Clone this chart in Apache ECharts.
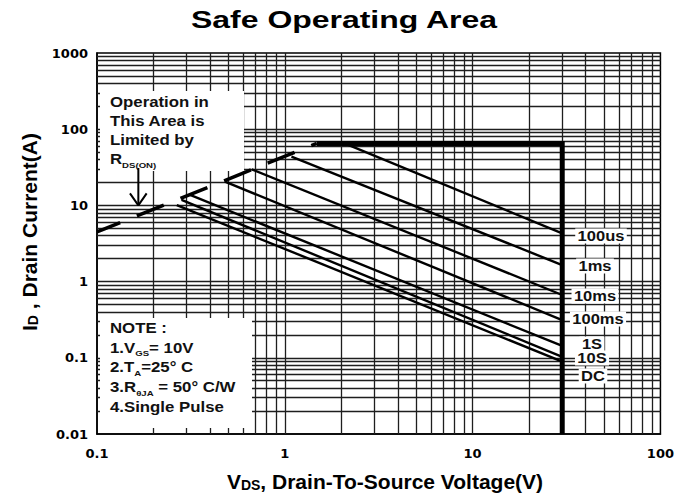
<!DOCTYPE html>
<html><head><meta charset="utf-8">
<script src="https://cdn.jsdelivr.net/npm/echarts@6/dist/echarts.min.js"></script>
<style>html,body{margin:0;padding:0;background:#fff}#c{width:677px;height:499px}</style>
</head><body><div id="c"></div>
<script>
// ---- data ----
const xTickLabels = ['0.1', '1', '10', '100'];
const yTickLabels = ['0.01', '0.1', '1', '10', '100', '1000'];
const pulseNames  = ['100us', '1ms', '10ms', '100ms', '1S', '10S', 'DC'];
const pulseStartV = [2.08, 1.085, 0.666, 0.48, 0.313, 0.282, 0.266];
const pulseStartI = [65, 43.6, 29.8, 20.5, 13.7, 11.8, 10.1];
const pulseEndV   = [30, 30, 30, 30, 30, 30, 30];
const pulseEndI   = [4.3, 1.65, 0.667, 0.313, 0.143, 0.103, 0.089];
const limitV = [1.48, 30, 30];
const limitI = [65, 65, 0.01];
const rdsV = [0.1, 1.48];
const rdsI = [4.48, 65];
const arrowV = [0.166, 0.166];
const arrowI = [31, 10];
const arrowHeadV = [0.1498, 0.166, 0.1838];
const arrowHeadI = [14.4, 10, 14.4];
const gridMultipliers = [1, 2, 3, 4, 5, 6, 7, 8, 9];

// ---- chart ----
const chart = echarts.init(document.getElementById('c'), null, {renderer: 'svg', width: 677, height: 499});
const F = '"Liberation Sans", Arial, sans-serif';
const TXT = '#111';

function decadeGrid(minExp, maxExp) {
  const out = [];
  for (let e = minExp; e < maxExp; e++) {
    for (const m of gridMultipliers) {
      if (m === 1 && e === minExp) continue;
      out.push(m * Math.pow(10, e));
    }
  }
  return out;
}
const xGrid = decadeGrid(-1, 2);
const yGrid = decadeGrid(-2, 3);
const pairs = (xs, ys) => xs.map((x, i) => [x, ys[i]]);

const series = [];
series.push({
  type: 'line', data: [[0.1, 0.01]], showSymbol: false, silent: true, z: 1,
  lineStyle: {width: 0},
  markLine: {
    silent: true, symbol: ['none', 'none'], label: {show: false}, animation: false,
    lineStyle: {color: '#1e1e1e', width: 1.3, type: 'solid'},
    emphasis: {disabled: true},
    data: xGrid.map(v => ({xAxis: v})).concat(yGrid.map(v => ({yAxis: v})))
  }
});
pulseNames.forEach((n, i) => {
  series.push({
    name: n, type: 'line', symbol: 'none', z: 100, silent: true,
    data: [[pulseStartV[i], pulseStartI[i]], [pulseEndV[i], pulseEndI[i]]],
    lineStyle: {color: '#000', width: 2.4}
  });
});
series.push({
  name: 'limit', type: 'line', symbol: 'none', z: 101, silent: true,
  data: pairs(limitV, limitI), lineStyle: {color: '#000', width: 5, join: 'miter', cap: 'butt'}
});
series.push({
  name: 'rds', type: 'line', symbol: 'none', z: 101, silent: true,
  data: pairs(rdsV, rdsI), lineStyle: {color: '#000', width: 3.5, type: [29, 18], dashOffset: 4, cap: 'butt'}
});
series.push({
  name: 'arrow', type: 'line', symbol: 'none', z: 102, silent: true,
  data: pairs(arrowV, arrowI), lineStyle: {color: '#000', width: 2}
});
series.push({
  name: 'arrowHead', type: 'line', symbol: 'none', z: 102, silent: true,
  data: pairs(arrowHeadV, arrowHeadI), lineStyle: {color: '#000', width: 2}
});

const tickFmt = (labels, minExp) => v => labels[Math.round(Math.log10(v)) - minExp] || '';
const axisLabelStyle = {fontFamily: '"DejaVu Sans", sans-serif', fontWeight: 'bold', fontSize: 13, color: '#000'};

const rt = {fontSize: 14, fontWeight: 'bold', fontFamily: F, fill: TXT, lineHeight: 19};
const rs = {fontSize: 8, fontWeight: 'bold', fontFamily: F, fill: TXT, lineHeight: 19, verticalAlign: 'bottom'};

const labelPos = {
  '100us': [601, 236], '1ms': [595, 266], '10ms': [595, 296], '100ms': [598, 319],
  '10S': [592, 358], '1S': [592, 344], 'DC': [593, 376]
};
const labelOrder = ['100us', '1ms', '10ms', '100ms', '10S', '1S', 'DC'];

const graphic = [
  {type: 'rect', shape: {x: 100, y: 91, width: 144, height: 80}, style: {fill: '#fff'}, z: 50, silent: true},
  {type: 'rect', shape: {x: 100, y: 318, width: 152, height: 110}, style: {fill: '#fff'}, z: 50, silent: true},
  {type: 'text', x: 110, y: 93, scaleX: 1.2, z: 110, silent: true,
    style: {text: '{t|Operation in}\n{t|This Area is}\n{t|Limited by}\n{t|R}{s|DS(ON)}',
      rich: {t: rt, s: rs}, align: 'left', verticalAlign: 'top'}},
  {type: 'text', x: 110, y: 318, scaleX: 1.2, z: 110, silent: true,
    style: {text: '{t|NOTE :}\n{t|1.V}{s|GS}{t|= 10V}\n{t|2.T}{s|A}{t|=25° C}\n{t|3.R}{s|θJA}{t| = 50° C/W}\n{t|4.Single Pulse}',
      rich: {t: Object.assign({}, rt, {lineHeight: 19.7}), s: Object.assign({}, rs, {lineHeight: 19.7})}, align: 'left', verticalAlign: 'top'}},
  {type: 'text', x: 344, y: 20, scaleX: 1.39, z: 110, silent: true,
    style: {text: 'Safe Operating Area', fontFamily: F, fontWeight: 'bold', fontSize: 23, fill: '#000', align: 'center', verticalAlign: 'middle'}},
  {type: 'text', x: 385, y: 481, z: 110, silent: true,
    style: {text: '{a|V}{b|DS}{a|, Drain-To-Source Voltage(V)}',
      rich: {a: {fontFamily: F, fontWeight: 'bold', fontSize: 21, fill: '#000'}, b: {fontFamily: F, fontWeight: 'bold', fontSize: 14, fill: '#000', verticalAlign: 'bottom'}},
      align: 'center', verticalAlign: 'middle'}},
  {type: 'text', x: 29, y: 232, rotation: Math.PI / 2, z: 110, silent: true,
    style: {text: '{a|I}{b|D}{a| , Drain Current(A)}',
      rich: {a: {fontFamily: F, fontWeight: 'bold', fontSize: 21, fill: '#000'}, b: {fontFamily: F, fontWeight: 'bold', fontSize: 14, fill: '#000', verticalAlign: 'bottom'}},
      align: 'center', verticalAlign: 'middle'}}
];
labelOrder.forEach((n, k) => {
  graphic.push({type: 'text', x: labelPos[n][0], y: labelPos[n][1], scaleX: 1.18, z: 120 + k, silent: true,
    style: {text: n, fontFamily: F, fontWeight: 'bold', fontSize: 14, fill: TXT, align: 'center', verticalAlign: 'middle',
      backgroundColor: '#fff', padding: [1, 2, 0, 2]}});
});

chart.setOption({
  animation: false,
  backgroundColor: '#fff',
  grid: {left: 97, right: 16, top: 53, bottom: 65, show: true, borderColor: '#000', borderWidth: 1.5, backgroundColor: '#fff'},
  xAxis: {
    type: 'log', logBase: 10, min: 0.1, max: 100,
    axisLine: {show: true, lineStyle: {color: '#000', width: 1.5}},
    axisTick: {show: false}, splitLine: {show: false}, minorTick: {show: false},
    axisLabel: Object.assign({margin: 13, formatter: tickFmt(xTickLabels, -1)}, axisLabelStyle)
  },
  yAxis: {
    type: 'log', logBase: 10, min: 0.01, max: 1000,
    axisLine: {show: true, lineStyle: {color: '#000', width: 1.5}},
    axisTick: {show: false}, splitLine: {show: false},
    axisLabel: Object.assign({margin: 9, formatter: tickFmt(yTickLabels, -2)}, axisLabelStyle)
  },
  series: series,
  graphic: graphic
});
</script>
</body></html>
